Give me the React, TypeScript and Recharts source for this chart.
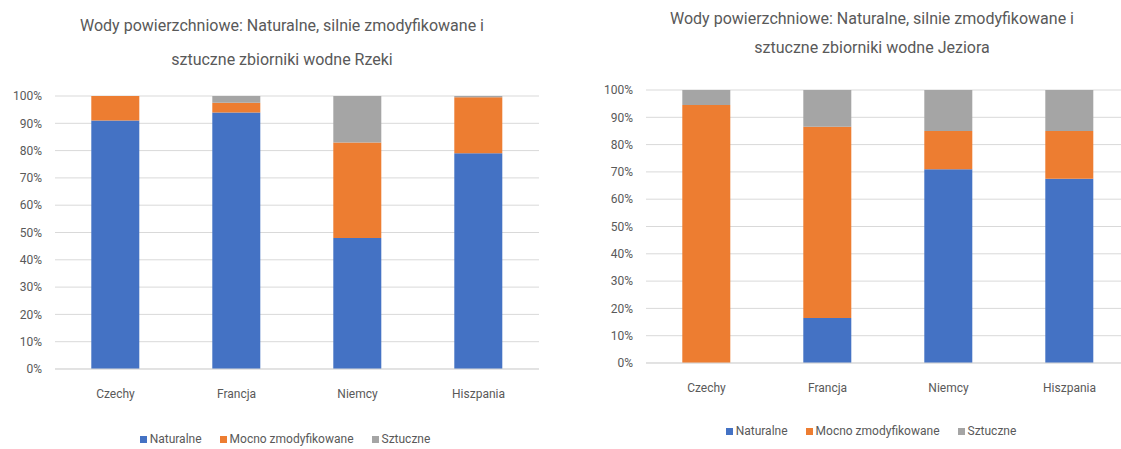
import React from 'react';
import { BarChart, Bar, XAxis, YAxis, CartesianGrid, Legend } from 'recharts';

const categories = ['Czechy', 'Francja', 'Niemcy', 'Hiszpania'];
const seriesNames = ['Naturalne', 'Mocno zmodyfikowane', 'Sztuczne'];
const seriesColors = ['#4472C4', '#ED7D31', '#A5A5A5'];

const rzekiNaturalne = [91, 94, 48, 79];
const rzekiMocno = [9, 3.5, 35, 20.5];
const rzekiSztuczne = [0, 2.5, 17, 0.5];

const jezioraNaturalne = [0, 16.5, 71, 67.5];
const jezioraMocno = [94.5, 70, 14, 17.5];
const jezioraSztuczne = [5.5, 13.5, 15, 15];

const yTicks = [0, 10, 20, 30, 40, 50, 60, 70, 80, 90, 100];

const titleRzeki = ['Wody powierzchniowe: Naturalne, silnie zmodyfikowane i', 'sztuczne zbiorniki wodne Rzeki'];
const titleJeziora = ['Wody powierzchniowe: Naturalne, silnie zmodyfikowane i', 'sztuczne zbiorniki wodne Jeziora'];

const build = (a: number[], b: number[], c: number[]) =>
  categories.map((name, i) => ({ name, s0: a[i], s1: b[i], s2: c[i] }));

const dataRzeki = build(rzekiNaturalne, rzekiMocno, rzekiSztuczne);
const dataJeziora = build(jezioraNaturalne, jezioraMocno, jezioraSztuczne);

const FONT = 'Roboto, "Open Sans", sans-serif';
const TEXT = '#595959';

const LegendContent = () => (
  <div style={{ display: 'flex', justifyContent: 'center', alignItems: 'center', height: 16, fontFamily: FONT, fontSize: 12, color: TEXT }}>
    {seriesNames.map((n, i) => (
      <div key={n} style={{ display: 'flex', alignItems: 'center', marginRight: i < 2 ? 18 : 0 }}>
        <span style={{ display: 'inline-block', width: 7, height: 7, background: seriesColors[i], marginRight: 3 }} />
        <span>{n}</span>
      </div>
    ))}
  </div>
);

type ChartProps = {
  data: any[];
  width: number;
  yWidth: number;
  marginRight: number;
  marginTop: number;
  marginBottom: number;
  xTickMargin: number;
  legendTop: number;
  legendLeft: number;
};

const StackChart = ({ data, width, yWidth, marginRight, marginTop, marginBottom, xTickMargin, legendTop, legendLeft }: ChartProps) => (
  <BarChart
    width={width}
    height={449}
    data={data}
    margin={{ top: marginTop, right: marginRight, bottom: marginBottom, left: 0 }}
    barCategoryGap="30%"
  >
    <CartesianGrid vertical={false} stroke="#D9D9D9" />
    <XAxis
      dataKey="name"
      axisLine={{ stroke: '#D9D9D9' }}
      tickLine={false}
      tickMargin={xTickMargin}
      height={30}
      tick={{ fill: TEXT, fontSize: 12, fontFamily: FONT }}
    />
    <YAxis
      width={yWidth}
      domain={[0, 100]}
      ticks={yTicks}
      interval={0}
      axisLine={false}
      tickLine={false}
      tickMargin={7}
      tickFormatter={(v: number) => `${v}%`}
      tick={{ fill: TEXT, fontSize: 12, fontFamily: FONT }}
    />
    <Legend
      content={<LegendContent />}
      wrapperStyle={{ top: legendTop, left: legendLeft, bottom: 'auto', width: width, height: 16 }}
    />
    <Bar dataKey="s0" name={seriesNames[0]} stackId="a" fill={seriesColors[0]} isAnimationActive={false} />
    <Bar dataKey="s1" name={seriesNames[1]} stackId="a" fill={seriesColors[1]} isAnimationActive={false} />
    <Bar dataKey="s2" name={seriesNames[2]} stackId="a" fill={seriesColors[2]} isAnimationActive={false} />
  </BarChart>
);

const Title = ({ lines, left, width, top, lineHeight }: { lines: string[]; left: number; width: number; top: number; lineHeight: number }) => (
  <div style={{ position: 'absolute', left, top, width, textAlign: 'center', fontFamily: FONT, fontSize: 16, color: TEXT, lineHeight: `${lineHeight}px` }}>
    {lines.map((l) => (
      <div key={l}>{l}</div>
    ))}
  </div>
);

export default function App() {
  return (
    <div style={{ position: 'absolute', left: 0, top: 0, width: 1121, height: 449, overflow: 'hidden', background: '#fff' }}>
      <div style={{ position: 'absolute', left: 0, top: 0 }}>
        <StackChart
          data={dataRzeki}
          width={560}
          yWidth={55}
          marginRight={21}
          marginTop={96}
          marginBottom={34}
          xTickMargin={14}
          legendTop={431}
          legendLeft={5}
        />
      </div>
      <div style={{ position: 'absolute', left: 580, top: 0 }}>
        <StackChart
          data={dataJeziora}
          width={570}
          yWidth={66}
          marginRight={20}
          marginTop={90}
          marginBottom={40}
          xTickMargin={14}
          legendTop={423}
          legendLeft={6}
        />
      </div>
      <Title lines={titleRzeki} left={0} width={564} top={9} lineHeight={34} />
      <Title lines={titleJeziora} left={580} width={584} top={4} lineHeight={29} />
    </div>
  );
}
